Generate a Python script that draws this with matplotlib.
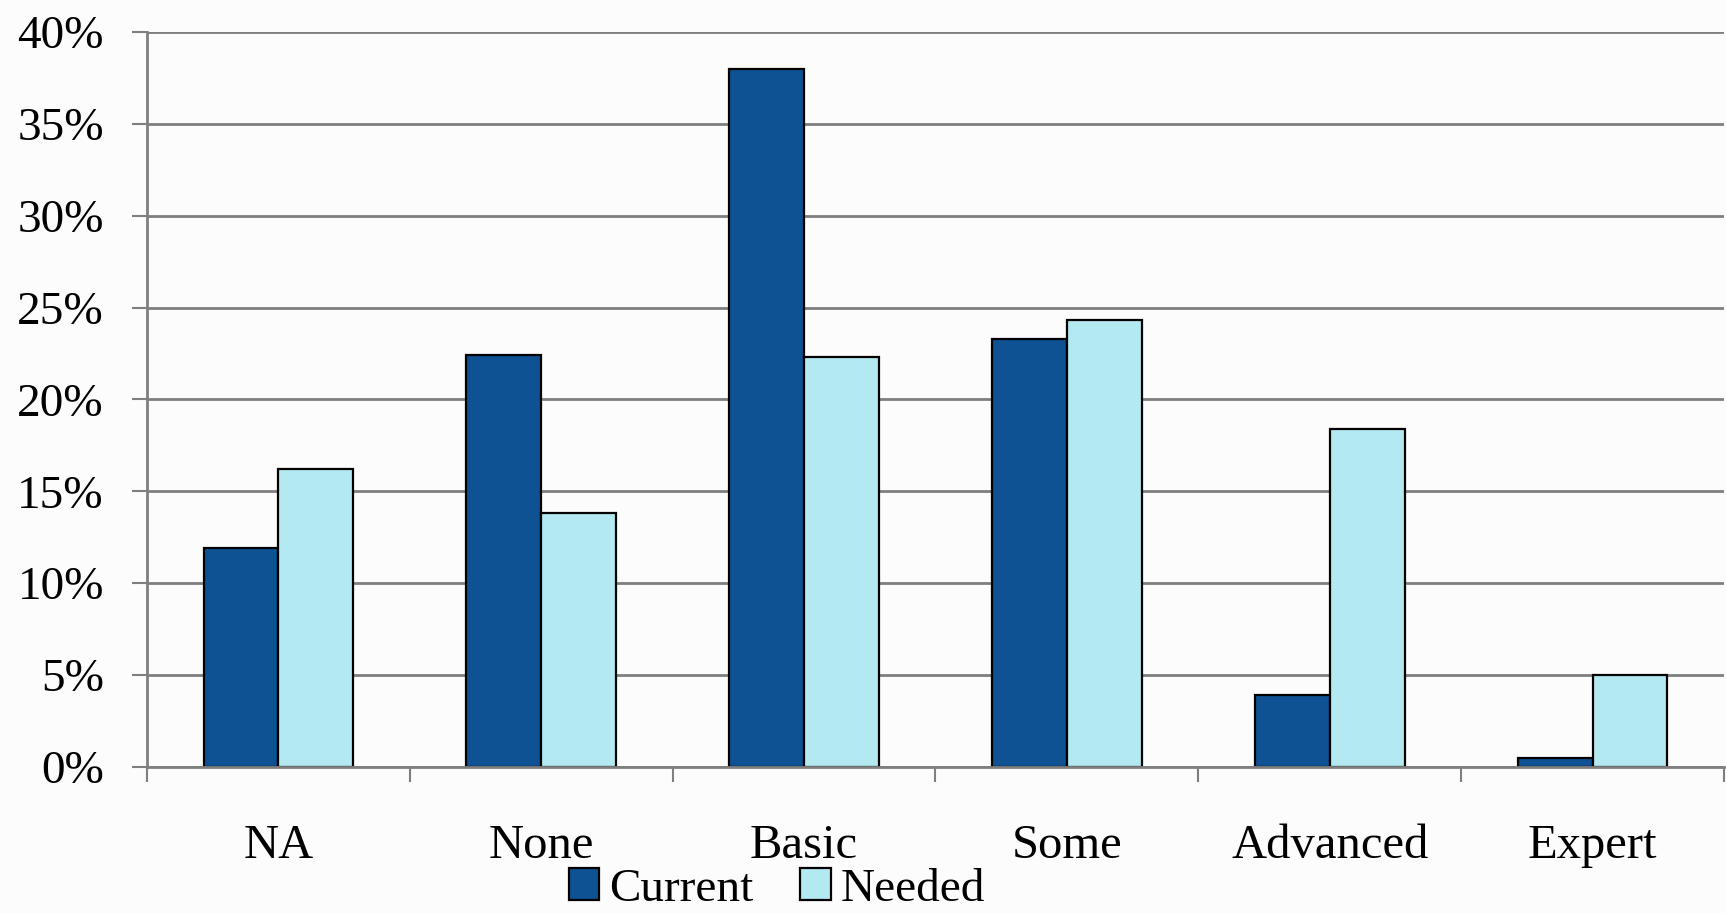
"""
Current vs needed skill levels, grouped bar chart.
"""

import numpy as np
import matplotlib
matplotlib.use("Agg")
import matplotlib.pyplot as plt
from matplotlib.ticker import FuncFormatter, FixedLocator

categories = ["NA", "None", "Basic", "Some", "Advanced", "Expert"]
current = [11.9, 22.4, 38.0, 23.3, 3.9, 0.5]
needed = [16.2, 13.8, 22.3, 24.3, 18.4, 5.0]
series_names = ["Current", "Needed"]
yticks = [0, 5, 10, 15, 20, 25, 30, 35, 40]

dark_blue = "#0e5293"
light_blue = "#b3e9f1"
grid_grey = "#7f7f7f"

plt.rcParams['font.family'] = ['Liberation Serif', 'DejaVu Serif']

fig = plt.figure(figsize=(17.26, 9.13), dpi=100)
fig.patch.set_facecolor("#fcfcfc")
ax = fig.add_axes([0.0852, 0.160, 0.9136, 0.805])
ax.set_facecolor("#fcfcfc")

x = np.arange(len(categories))
width = 0.285
ax.bar(x - width / 2, current, width, color=dark_blue, edgecolor="black",
       linewidth=1.6, label=series_names[0], zorder=3)
ax.bar(x + width / 2, needed, width, color=light_blue, edgecolor="black",
       linewidth=1.6, label=series_names[1], zorder=3)

ax.set_xlim(-0.5, len(categories) - 0.5)
ax.set_ylim(0, 40)
ax.set_yticks(yticks)
ax.yaxis.set_major_formatter(FuncFormatter(lambda v, p: f"{v:.0f}%"))
ax.grid(axis="y", color=grid_grey, linewidth=2, zorder=0)

ax.set_xticks(x)
ax.set_xticklabels(categories)
ax.xaxis.set_minor_locator(FixedLocator(np.arange(-0.5, len(categories), 1.0)))
ax.tick_params(axis="x", which="major", length=0, pad=41, labelsize=35)
ax.tick_params(axis="x", which="minor", length=11, width=1.5, color=grid_grey)
ax.tick_params(axis="y", length=11, width=1.5, color=grid_grey, pad=20,
               labelsize=34)

for side in ["top", "right"]:
    ax.spines[side].set_visible(False)
for side in ["left", "bottom"]:
    ax.spines[side].set_color(grid_grey)
    ax.spines[side].set_linewidth(2)
ax.spines["bottom"].set_zorder(4)

fig.legend(loc="center", bbox_to_anchor=(0.450, 0.026), ncol=2,
           frameon=False, fontsize=34, handlelength=0.65, handleheight=0.65,
           handletextpad=0.2, columnspacing=1.0, borderpad=0)

fig.savefig("out.png", dpi=100, facecolor=fig.get_facecolor())
